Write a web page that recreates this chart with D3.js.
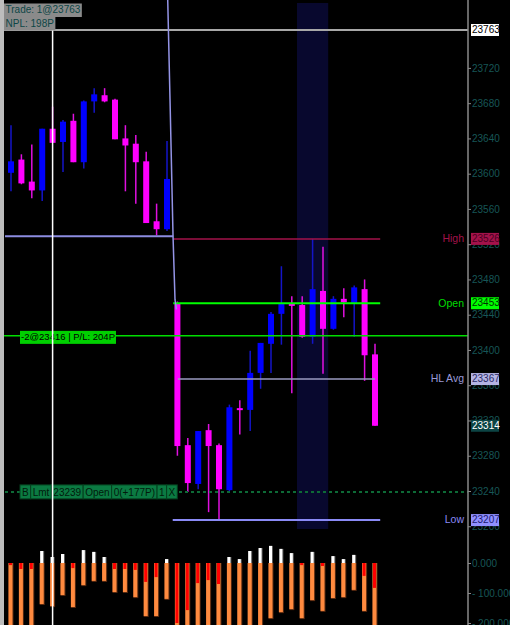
<!DOCTYPE html>
<html>
<head>
<meta charset="utf-8">
<script src="https://cdn.jsdelivr.net/npm/d3@7"></script>
<style>
  body { margin: 0; background: #000; }
  svg { display: block; }
  text { font-family: "Liberation Sans", Arial, sans-serif; }
</style>
</head>
<body>
<div id="chart"></div>
<script>
// candle data (one per bar, left to right)
var openP  = [23601,23616,23591,23581,23651,23636,23660,23613,23682,23689,23684,23640,23634,23614,23546,23537,
              23453,23292,23248,23309,23292,23241,23334,23332,23374,23407,23441,23453,23451,23415,23467,23424,23458,23453,23469,23395];
var highP  = [23655,23622,23633,23651,23676,23661,23668,23683,23697,23697,23685,23655,23644,23625,23566,23637,
              23455,23300,23308,23316,23294,23338,23343,23399,23408,23443,23495,23461,23461,23526,23517,23461,23470,23473,23480,23407];
var lowP   = [23580,23588,23572,23569,23635,23602,23613,23606,23669,23681,23639,23580,23566,23544,23530,23535,
              23280,23239,23242,23216,23207,23240,23304,23308,23356,23374,23406,23351,23414,23407,23373,23423,23437,23415,23365,23314];
var closeP = [23614,23589,23581,23651,23635,23659,23613,23682,23690,23682,23639,23632,23613,23544,23537,23594,
              23291,23249,23308,23291,23242,23335,23332,23374,23408,23441,23453,23450,23415,23469,23424,23458,23454,23471,23394,23314];

// lower panel
var barTotal = [-232,-228,-236,-140,-147,-110,-150,-77,-63,-63,-100,-100,-117,-180,-180,-123,
                -245,-238,-226,-231,-240,-222,-235,-229,-233,-187,-167,-157,-187,-127,-163,-120,-117,-93,-163,-236];
var barSell  = [-7,-20,-20,0,0,0,-17,0,0,0,-20,-20,-23,-63,-47,0,
                -200,-157,-67,-57,-70,0,0,0,0,0,0,0,-7,0,-10,0,0,0,-43,-83];
var barBuy   = [0,0,0,40,20,30,0,43,37,20,0,0,0,0,0,13,
                0,0,0,0,0,20,13,40,50,57,47,33,0,37,0,23,13,27,0,0];

var priceTicks = [23200,23240,23280,23320,23360,23400,23440,23480,23520,23560,23600,23640,23680,23720];
var lowerTicks = [0,-100,-200];

// levels
var lastTrade = 23763, sessHigh = 23526, sessOpen = 23453, posPrice = 23416,
    hlAvg = 23367, lastPrice = 23314, orderPrice = 23239, sessLow = 23207, priorLevel = 23529;

// stepped projection line
var diagTime  = [15.07, 15.29, 15.58, 15.77, 15.91];
var diagPrice = [23797, 23684, 23529, 23457, 23446];

var orderCells = ["B","Lmt","23239","Open","0(+177P)","1","X"];
var infoLines = ["Trade: 1@23763", "NPL: 198P"];

var W = 510, H = 625, axisX = 468;

var svg = d3.select("#chart").append("svg").attr("width", W).attr("height", H);
svg.append("rect").attr("width", W).attr("height", H).attr("fill", "#000");

var x = d3.scaleLinear().domain([0, 35]).range([11, 375]);
var y = d3.scaleLinear().domain([23763, 23240]).range([30, 491]);
var yLow = d3.scaleLinear().domain([0, -200]).range([563, 623]);

var defs = svg.append("defs");
defs.append("clipPath").attr("id", "upClip").append("rect")
  .attr("x", 4).attr("y", 0).attr("width", axisX - 4).attr("height", 529);
defs.append("clipPath").attr("id", "lowClip").append("rect")
  .attr("x", 4).attr("y", 535).attr("width", axisX - 4).attr("height", 90);

// left grey strip
svg.append("rect").attr("x", 0).attr("y", 0).attr("width", 4).attr("height", H).attr("fill", "#bdbdbd");

var up = svg.append("g").attr("clip-path", "url(#upClip)");

// highlighted session band
up.append("rect")
  .attr("x", x(27.5)).attr("y", 3)
  .attr("width", x(30.5) - x(27.5)).attr("height", 526)
  .attr("fill", "#08082e");

// candles
var data = d3.range(openP.length).map(function(i) {
  return { i: i, o: openP[i], h: highP[i], l: lowP[i], c: closeP[i] };
});

up.selectAll("line.wick").data(data).enter().append("line")
  .attr("class", "wick")
  .attr("x1", function(d) { return x(d.i); })
  .attr("x2", function(d) { return x(d.i); })
  .attr("y1", function(d) { return y(d.h); })
  .attr("y2", function(d) { return y(d.l); })
  .attr("stroke", function(d) { return d.c >= d.o ? "#1414c8" : "#e010e0"; })
  .attr("stroke-width", 1.5);

up.selectAll("rect.body").data(data).enter().append("rect")
  .attr("class", "body")
  .attr("x", function(d) { return x(d.i) - 3; })
  .attr("width", 6)
  .attr("y", function(d) { return y(Math.max(d.o, d.c)); })
  .attr("height", function(d) { return Math.max(2, Math.abs(y(d.o) - y(d.c))); })
  .attr("fill", function(d) { return d.c >= d.o ? "#0000ff" : "#ff00ff"; });

// horizontal levels
function hline(g, v, x1, x2, color, w, dash) {
  var l = g.append("line")
    .attr("x1", x1).attr("x2", x2)
    .attr("y1", y(v)).attr("y2", y(v))
    .attr("stroke", color).attr("stroke-width", w);
  if (dash) l.attr("stroke-dasharray", dash);
  return l;
}

hline(up, lastTrade, 4, axisX, "#a8a8a8", 2);
hline(up, priorLevel, 5, x(15.6), "#8c8ce0", 2);
hline(up, sessHigh, x(15.6), x(35.5), "#a3124a", 1.5);
hline(up, sessOpen, x(15.6), x(35.5), "#00ff00", 2);
hline(up, posPrice, 4, axisX, "#00dd00", 1.5);
hline(up, hlAvg, x(16.05), x(35), "#9a9ac0", 1.5);
hline(up, orderPrice, 5, axisX, "#0d6a36", 2, "3,3");
hline(up, sessLow, x(15.55), x(35.5), "#8a8af5", 2);

// projection line
var diag = d3.line()
  .x(function(d, i) { return x(diagTime[i]); })
  .y(function(d) { return y(d); });
up.append("path").datum(diagPrice)
  .attr("d", diag)
  .attr("fill", "none")
  .attr("stroke", "#9494e6")
  .attr("stroke-width", 1.5);

// position label
var posG = svg.append("g");
var posT = posG.append("text")
  .attr("x", 21).attr("y", y(posPrice) + 2)
  .attr("dominant-baseline", "middle")
  .attr("font-size", "9.5px").attr("fill", "#000")
  .text("-2@23416 | P/L: 204P");
var pw = posT.node().getComputedTextLength();
posG.insert("rect", "text")
  .attr("x", 20).attr("y", y(posPrice) - 5)
  .attr("width", pw + 2).attr("height", 13)
  .attr("fill", "#00d000");

// order label
var cx = 20, oy = y(orderPrice);
orderCells.forEach(function(s) {
  var cell = svg.append("g");
  var t = cell.append("text")
    .attr("y", oy + 1)
    .attr("dominant-baseline", "middle")
    .attr("font-size", "10px").attr("fill", "#021a0c")
    .text(s);
  var tw = t.node().getComputedTextLength();
  cell.insert("rect", "text")
    .attr("x", cx).attr("y", oy - 7)
    .attr("width", tw + 4).attr("height", 14)
    .attr("fill", "#0b7a42").attr("stroke", "#05401f").attr("stroke-width", 1);
  t.attr("x", cx + 2);
  cx += tw + 4;
});

// lower panel bars
var low = svg.append("g").attr("clip-path", "url(#lowClip)");
var bars = d3.range(barTotal.length);
low.selectAll("rect.tot").data(bars).enter().append("rect")
  .attr("x", function(i) { return x(i) - 2.5; })
  .attr("width", 5)
  .attr("y", yLow(0))
  .attr("height", function(i) { return yLow(barTotal[i]) - yLow(0); })
  .attr("fill", "#5a2a10");
low.selectAll("rect.tot2").data(bars).enter().append("rect")
  .attr("x", function(i) { return x(i) - 2.5; })
  .attr("width", 4)
  .attr("y", yLow(0))
  .attr("height", function(i) { return yLow(barTotal[i]) - yLow(0) - 1; })
  .attr("fill", "#ff8a3f");
low.selectAll("rect.sell").data(bars.filter(function(i) { return barSell[i] < 0; })).enter().append("rect")
  .attr("x", function(i) { return x(i) - 2; })
  .attr("width", 3)
  .attr("y", yLow(0))
  .attr("height", function(i) { return yLow(barSell[i]) - yLow(0); })
  .attr("fill", "#ff0000");
low.selectAll("rect.buy").data(bars.filter(function(i) { return barBuy[i] > 0; })).enter().append("rect")
  .attr("x", function(i) { return x(i) - 2; })
  .attr("width", 4)
  .attr("y", function(i) { return yLow(barBuy[i]); })
  .attr("height", function(i) { return yLow(0) - yLow(barBuy[i]); })
  .attr("fill", "#5a5a5a");
low.selectAll("rect.buy2").data(bars.filter(function(i) { return barBuy[i] > 0; })).enter().append("rect")
  .attr("x", function(i) { return x(i) - 2; })
  .attr("width", 3)
  .attr("y", function(i) { return yLow(barBuy[i]); })
  .attr("height", function(i) { return yLow(0) - yLow(barBuy[i]); })
  .attr("fill", "#ffffff");

// crosshair
svg.append("line")
  .attr("x1", x(4)).attr("x2", x(4))
  .attr("y1", 29).attr("y2", H)
  .attr("stroke", "#ffffff").attr("stroke-width", 1.5);

// info box top left
infoLines.forEach(function(s, k) {
  var g = svg.append("g");
  var t = g.append("text")
    .attr("x", 5.5).attr("y", 10.5 + k * 13.5)
    .attr("dominant-baseline", "middle")
    .attr("font-size", "10px").attr("fill", "#0d4646")
    .text(s);
  var tw = t.node().getComputedTextLength();
  g.insert("rect", "text")
    .attr("x", 4).attr("y", 3.5 + k * 13.5)
    .attr("width", tw + 3).attr("height", 13.5)
    .attr("fill", "#8a8a8a");
});

// right axis
svg.append("line")
  .attr("x1", axisX).attr("x2", axisX)
  .attr("y1", 0).attr("y2", H)
  .attr("stroke", "#8a8a8a").attr("stroke-width", 1.5);

var yAxis = d3.axisRight(y).tickValues(priceTicks).tickSize(3).tickPadding(1)
  .tickFormat(function(d) { return d; });
var ag = svg.append("g").attr("transform", "translate(" + axisX + ",0)").call(yAxis);
ag.select(".domain").remove();
ag.selectAll(".tick line").attr("stroke", "#8a8a8a");
ag.selectAll(".tick text").attr("fill", "#175656").attr("font-size", "10px")
  .attr("font-family", "Liberation Sans, Arial, sans-serif");

var lowAxis = d3.axisRight(yLow).tickValues(lowerTicks).tickSize(3).tickPadding(1)
  .tickFormat(d3.format(".3f"));
var lg = svg.append("g").attr("transform", "translate(" + axisX + ",0)").call(lowAxis);
lg.select(".domain").remove();
lg.selectAll(".tick line").attr("stroke", "#8a8a8a");
lg.selectAll(".tick text").attr("fill", "#175656").attr("font-size", "10px")
  .attr("font-family", "Liberation Sans, Arial, sans-serif")
  .text(function(d) { return d === 0 ? "0.000" : "- " + d3.format(".3f")(-d); });

// axis price boxes and level names
function priceBox(v, bg, fg, name, nameColor) {
  var yy = y(v);
  svg.append("rect")
    .attr("x", 471).attr("y", yy - 6)
    .attr("width", 28).attr("height", 12)
    .attr("fill", bg);
  svg.append("text")
    .attr("x", 472).attr("y", yy + 0.5)
    .attr("dominant-baseline", "middle")
    .attr("font-size", "10px").attr("fill", fg)
    .text(v);
  if (name) {
    svg.append("text")
      .attr("x", 464).attr("y", yy + 0.5)
      .attr("text-anchor", "end")
      .attr("dominant-baseline", "middle")
      .attr("font-size", "10.5px").attr("fill", nameColor)
      .text(name);
  }
}

priceBox(lastTrade, "#ffffff", "#000000");
priceBox(sessHigh, "#a3124a", "#4a0020", "High", "#a3124a");
priceBox(sessOpen, "#00ff00", "#003300", "Open", "#00dd00");
priceBox(hlAvg, "#b4b4e4", "#2a2a66", "HL Avg", "#9a9ad8");
priceBox(lastPrice, "#0c4444", "#ffffff");
priceBox(sessLow, "#9090ff", "#1a1a70", "Low", "#8a8af5");
</script>
</body>
</html>
